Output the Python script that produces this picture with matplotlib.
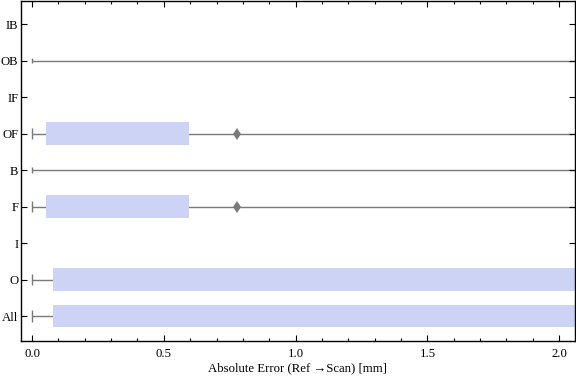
import numpy as np
import matplotlib.pyplot as plt

# categories from top to bottom
categories = ['IB', 'OB', 'IF', 'OF', 'B', 'F', 'I', 'O', 'All']
# box-whisker stats per category (None = no data)
whisker_lo = [None, 0.0, None, 0.0, 0.0, 0.0, None, 0.0, 0.0]
box_lo = [None, None, None, 0.053, None, 0.053, None, 0.08, 0.08]
box_hi = [None, None, None, 0.595, None, 0.595, None, 3.0, 3.0]
whisker_hi = [None, 3.0, None, 3.0, 3.0, 3.0, None, 3.0, 3.0]
outliers = [[], [], [], [0.776], [], [0.776], [], [], []]

plt.rcParams['font.family'] = ['Liberation Serif', 'DejaVu Serif']

fig = plt.figure(figsize=(5.76, 3.81), dpi=100)
ax = fig.add_axes([21 / 576, 1 - 341 / 381, 554 / 576, 340 / 381])

n = len(categories)
ypos = np.arange(n)[::-1]
gray = '#7a7a7a'
boxcol = '#cdd3f4'

for y, wl, bl, bh, wh, fl in zip(ypos, whisker_lo, box_lo, box_hi, whisker_hi, outliers):
    if wl is None:
        continue
    ax.hlines(y, wl, wh, color=gray, lw=1, zorder=1)
    if bl is not None:
        ax.barh(y, bh - bl, left=bl, height=0.62, color=boxcol, zorder=2)
        cap = 0.16
    else:
        cap = 0.08
    ax.vlines(wl, y - cap, y + cap, color=gray, lw=1, zorder=3)
    if fl:
        ax.plot(fl, [y] * len(fl), 'd', color=gray, ms=6, mew=0, zorder=3)

ax.set_xlim(-0.042, 2.06)
ax.set_ylim(-0.68, n - 1 + 0.63)
ax.set_yticks(ypos)
ax.set_yticklabels(categories, fontsize=9.2)
ax.set_xticks([0, 0.5, 1.0, 1.5, 2.0])
ax.set_xticklabels(['0.0', '0.5', '1.0', '1.5', '2.0'], fontsize=9.2)
ax.set_xticks(np.arange(0, 2.05, 0.1), minor=True)
ax.tick_params(which='both', direction='in', top=True, right=True, width=0.8)
ax.tick_params(which='major', length=4)
ax.tick_params(axis='x', which='major', pad=5)
ax.tick_params(axis='y', which='major', pad=2)
ax.tick_params(which='minor', length=2.5)
ax.tick_params(axis='y', which='minor', left=False, right=False)
for s in ax.spines.values():
    s.set_linewidth(1)
ax.set_xlabel('Absolute Error (Ref \u2192Scan) [mm]', fontsize=9.2, labelpad=2)

fig.savefig('out.png', dpi=100)
